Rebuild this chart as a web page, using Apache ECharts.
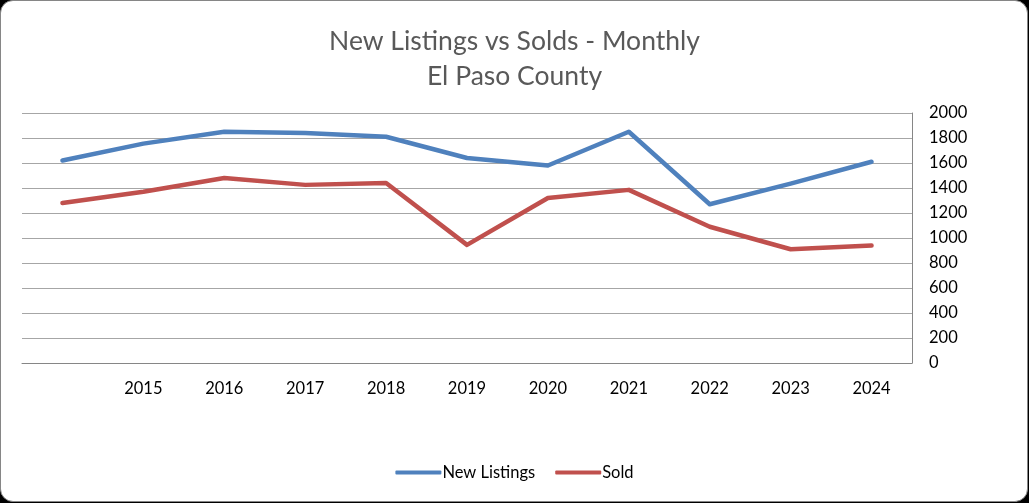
<!DOCTYPE html>
<html>
<head>
<meta charset="utf-8">
<script src="https://cdn.jsdelivr.net/npm/echarts@6/dist/echarts.min.js"></script>
<style>
html,body{margin:0;padding:0;background:#000;width:1029px;height:503px;overflow:hidden;}
#frame{position:absolute;left:0;top:0;width:1026px;height:500px;border:1.5px solid #868686;border-radius:13px;background:#fff;}
#chart{position:absolute;left:0;top:0;width:1029px;height:503px;}
</style>
</head>
<body>
<div id="frame"></div>
<div id="chart"></div>
<script>
const categories = ["", "2015", "2016", "2017", "2018", "2019", "2020", "2021", "2022", "2023", "2024"];
const newListings = [1620, 1755, 1850, 1840, 1810, 1640, 1580, 1850, 1270, 1435, 1610];
const sold = [1280, 1370, 1480, 1425, 1440, 945, 1320, 1385, 1090, 910, 940];
const yTicks = {min: 0, max: 2000, interval: 200};

const chart = echarts.init(document.getElementById('chart'));
const font = 'Lato, sans-serif';
chart.setOption({
  backgroundColor: 'transparent',
  animation: false,
  title: {
    text: 'New Listings vs Solds - Monthly\nEl Paso County',
    left: 'center',
    top: 19,
    textStyle: {color: '#595959', fontSize: 26.5, fontWeight: 'normal', fontFamily: font, lineHeight: 35}
  },
  legend: {
    bottom: 17,
    left: 'center',
    itemWidth: 46,
    itemHeight: 4,
    itemGap: 20,
    icon: 'roundRect',
    textStyle: {color: '#000', fontSize: 16.5, fontFamily: font, padding: [0,0,0,-4]},
    data: ['New Listings', 'Sold']
  },
  grid: {left: 22, right: 117, top: 113, bottom: 140},
  xAxis: {
    type: 'category',
    data: categories,
    boundaryGap: true,
    axisLine: {show: true, lineStyle: {color: '#868686', width: 1}},
    axisTick: {show: false},
    axisLabel: {color: '#000', fontSize: 16.5, fontFamily: font, margin: 17, interval: 0}
  },
  yAxis: {
    type: 'value',
    position: 'right',
    min: yTicks.min, max: yTicks.max, interval: yTicks.interval,
    axisLine: {show: true, lineStyle: {color: '#868686', width: 1}},
    axisTick: {show: false},
    axisLabel: {color: '#000', fontSize: 16.5, fontFamily: font, margin: 17, formatter: v => String(v)},
    splitLine: {show: true, lineStyle: {color: '#A6A6A6', width: 1}}
  },
  series: [
    {name: 'New Listings', type: 'line', data: newListings, symbol: 'none',
     lineStyle: {color: '#4F81BD', width: 4.5, cap: 'round', join: 'round'}, itemStyle: {color: '#4F81BD'}},
    {name: 'Sold', type: 'line', data: sold, symbol: 'none',
     lineStyle: {color: '#C0504D', width: 4.5, cap: 'round', join: 'round'}, itemStyle: {color: '#C0504D'}}
  ]
});
</script>
</body>
</html>
